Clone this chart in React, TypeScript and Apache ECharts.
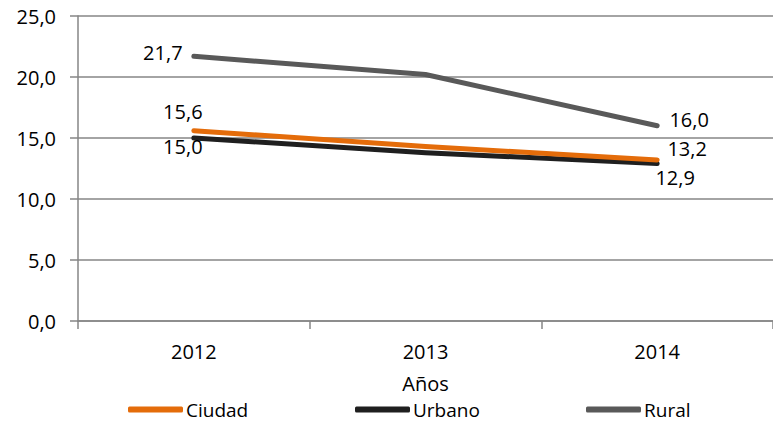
import React, { useEffect, useRef } from "react";
import * as echarts from "echarts";

const categories = ["2012", "2013", "2014"];
const ciudad = [15.6, 14.3, 13.2];
const urbano = [15.0, 13.8, 12.9];
const rural = [21.7, 20.2, 16.0];
const seriesNames = ["Ciudad", "Urbano", "Rural"];
const yTicks = { min: 0, max: 25, interval: 5 };
const xAxisName = "Años";

const FONT = "'Open Sans', sans-serif";
const FS = 20;
const fmt = (v: number) => v.toFixed(1).replace(".", ",");

export default function App() {
  const ref = useRef<HTMLDivElement>(null);
  useEffect(() => {
    if (!ref.current) return;
    const chart = echarts.init(ref.current, null, { renderer: "svg" });
    const lbl = (offset: number[]) => ({
      show: true,
      position: "inside",
      offset,
      color: "#000",
      fontFamily: FONT,
      fontSize: FS,
      formatter: (p: any) => fmt(p.value),
    });
    const mk = (vals: number[], offs: (number[] | null)[]) =>
      vals.map((v, i) => ({
        value: v,
        label: offs[i] ? lbl(offs[i] as number[]) : { show: false },
      }));
    const colors = ["#E46C0A", "#1F1F1F", "#595959"];
    const series = [
      { name: seriesNames[0], data: mk(ciudad, [[-11, -19], null, [30, -11]]) },
      { name: seriesNames[1], data: mk(urbano, [[-11, 8], null, [18, 14]]) },
      { name: seriesNames[2], data: mk(rural, [[-31, -4], null, [32, -6]]) },
    ].map((s, i) => ({
      type: "line",
      name: s.name,
      data: s.data,
      symbol: "circle",
      symbolSize: 1,
      z: 3 - i,
      itemStyle: { color: colors[i] },
      lineStyle: { color: colors[i], width: 5, cap: "round", join: "round" },
    }));
    const legendLefts = [128, 355, 586];
    chart.setOption({
      animation: false,
      color: colors,
      grid: { left: 78, top: 16, bottom: 102, right: -8, containLabel: false },
      xAxis: {
        type: "category",
        data: categories,
        boundaryGap: true,
        name: xAxisName,
        nameLocation: "middle",
        nameGap: 52,
        nameTextStyle: { color: "#000", fontFamily: FONT, fontSize: FS },
        axisLine: { show: true, lineStyle: { color: "#868686", width: 1.5 } },
        axisTick: { show: true, length: 8, lineStyle: { color: "#868686", width: 1.5 } },
        axisLabel: { color: "#000", fontFamily: FONT, fontSize: FS, margin: 20 },
        splitLine: { show: false },
      },
      yAxis: {
        type: "value",
        min: yTicks.min,
        max: yTicks.max,
        interval: yTicks.interval,
        axisLine: { show: true, lineStyle: { color: "#868686", width: 1.5 } },
        axisTick: { show: true, length: 8, lineStyle: { color: "#868686", width: 1.5 } },
        axisLabel: {
          color: "#000",
          fontFamily: FONT,
          fontSize: FS,
          margin: 22,
          formatter: (v: number) => fmt(v),
        },
        splitLine: { show: true, lineStyle: { color: "#868686", width: 1.5 } },
      },
      legend: seriesNames.map((n, i) => ({
        data: [{ name: n, icon: "roundRect" }],
        left: legendLefts[i],
        top: 400,
        padding: 0,
        itemWidth: 55,
        itemHeight: 6,
        itemGap: 0,
        textStyle: {
          color: "#000",
          fontFamily: FONT,
          fontSize: 19,
          lineHeight: 19,
          padding: [0, 0, 0, -2],
        },
      })),
      series,
    });
    return () => chart.dispose();
  }, []);
  return (
    <div
      ref={ref}
      style={{ position: "fixed", left: 0, top: 0, width: 773, height: 423, background: "#fff" }}
    />
  );
}
